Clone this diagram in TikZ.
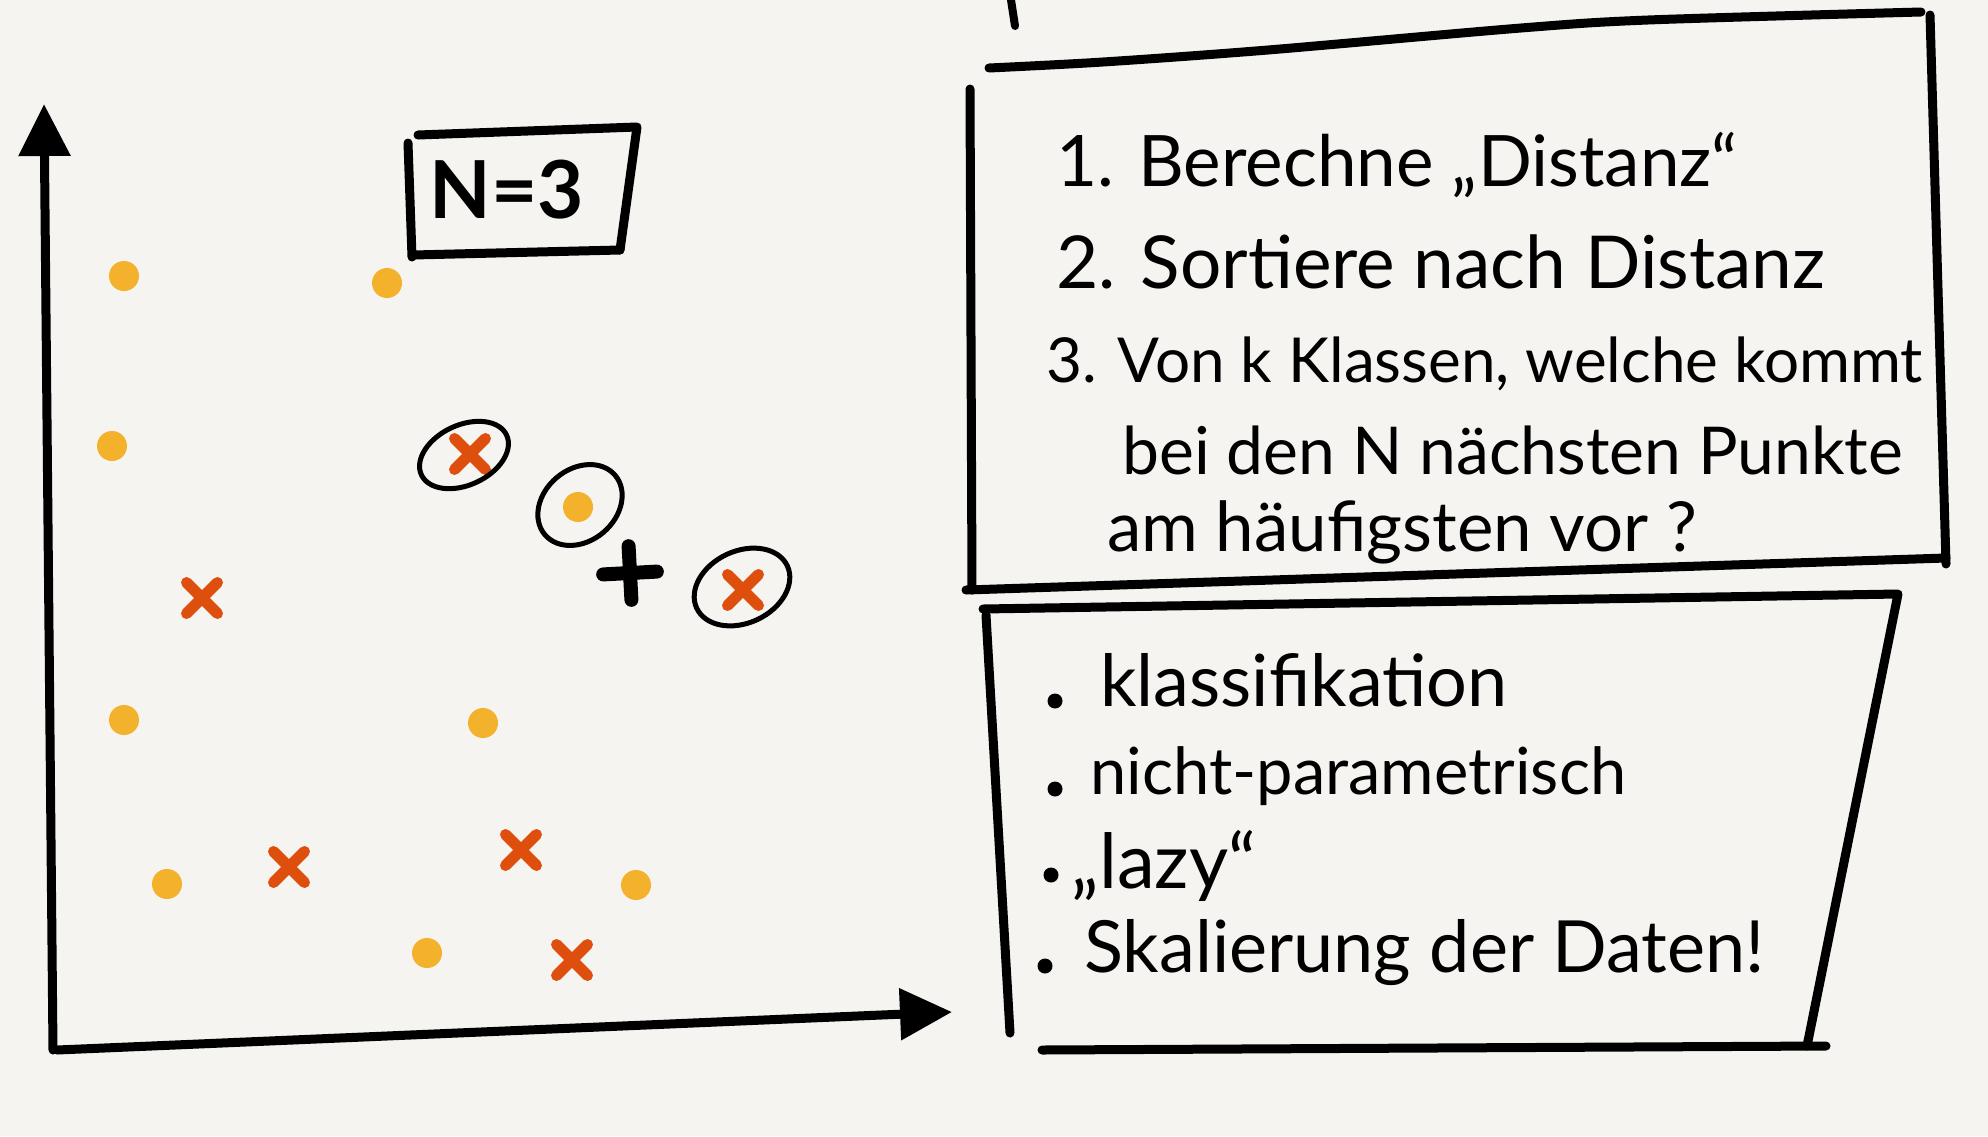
\documentclass[tikz,border=0pt]{standalone}
\usepackage{fontspec}
\setmainfont{Lato}
\usetikzlibrary{arrows.meta,positioning,shapes.geometric,shapes.misc}
\definecolor{paper}{HTML}{F5F4F0}
\definecolor{dotyellow}{HTML}{F4B12B}
\definecolor{crossred}{HTML}{DE4F0E}

\begin{document}
\begin{tikzpicture}[x=1pt, y=-1pt,
        pen/.style={line width=9pt, line cap=round, line join=round},
        axis/.style={pen, -{Triangle[length=52pt, width=50pt]}},
        ring/.style={draw, ellipse, line width=5pt, inner sep=0pt},
        ydot/.style={circle, fill=dotyellow, inner sep=0pt, minimum size=30pt},
        rcross/.style={cross out, draw=crossred, line width=11pt, line cap=round, inner sep=0pt, minimum size=20pt},
        bcross/.style={cross out, draw=black, line width=14pt, line cap=round, inner sep=0pt, minimum size=24pt, rotate=48},
        bullet/.style={circle, fill=black, inner sep=0pt, minimum size=15pt},
        hand/.style={anchor=west, inner sep=0pt, font=\fontsize{#1}{#1}\selectfont},
        hand/.default=64,
        nbox/.style={font=\fontsize{80}{90}\selectfont\bfseries, inner sep=0pt}
    ]
        \fill[paper] (0,0) rectangle (1988,1136);
        \useasboundingbox (0,0) rectangle (1988,1136);

        % axes
        \coordinate (origin) at (53,1050);
        \coordinate (ytip) at (44,104);
        \coordinate (xtip) at (952,1012);
        \draw[axis] (origin) -- (ytip);
        \draw[axis] (57,1050) -- (xtip);

        % N = 3
        \node[nbox] (nval) at (507,190) {N=3};
        \draw[pen] (418,135) -- (637,127) -- (620,250);
        \draw[pen] (408,143) -- (412,257);
        \draw[pen] (413,255) -- (620,250);

        % points
        \node[ydot] (y1) at (124,276) {};
        \node[ydot] (y2) at (387,283) {};
        \node[ydot] (y3) at (112,446) {};
        \node[ydot] (y4) at (578,507) {};
        \node[ydot] (y5) at (124,720) {};
        \node[ydot] (y6) at (483,723) {};
        \node[ydot] (y7) at (167,884) {};
        \node[ydot] (y8) at (427,953) {};
        \node[ydot] (y9) at (636,885) {};
        \node[rcross] (r1) at (202,598) {};
        \node[rcross] (r2) at (470,454) {};
        \node[rcross] (r3) at (743,590) {};
        \node[rcross] (r4) at (289,867) {};
        \node[rcross] (r5) at (521,850) {};
        \node[rcross] (r6) at (572,960) {};
        \node[bcross] (query) at (630,573) {};

        \node[ring, minimum width=94pt, minimum height=60pt, rotate=25] (n1) at (464,455) {};
        \node[ring, minimum width=92pt, minimum height=72pt, rotate=40] (n2) at (580,505) {};
        \node[ring, minimum width=100pt, minimum height=72pt, rotate=25] (n3) at (742,587) {};

        % steps
        \draw[pen] plot[smooth] coordinates {(989,68) (1103,62) (1268,50) (1521,28) (1648,20) (1921,12)};
        \draw[pen] (1930,15) -- (1946,564);
        \draw[pen] (970,89) -- (972,590);
        \draw[pen] (966,590) -- (1946,558);
        \node[hand=71] (l1) at (1056,165) {1. Berechne „Distanz“};
        \node[hand=73] (l2) at (1056,262) {2. Sortiere nach Distanz};
        \node[hand=62] (l3) at (1046,364) {3. Von k Klassen, welche kommt};
        \node[hand=66] (l4) at (1122,450) {bei den N nächsten Punkte};
        \node[hand=69] (l5) at (1107,532) {am häufigsten vor ?};

        % properties
        \draw[pen] (983,609) -- (1898,594) -- (1807,1046);
        \draw[pen] (986,615) -- (1010,1033);
        \draw[pen] (1042,1050) -- (1826,1046);
        \node[bullet] (b1) at (1055,701) {};
        \node[bullet] (b2) at (1055,789) {};
        \node[bullet] (b3) at (1051,875) {};
        \node[bullet] (b4) at (1045,966) {};
        \node[hand=72] (p1) at (1100,680) {klassifikation};
        \node[hand=65] (p2) at (1090,776) {nicht-parametrisch};
        \node[hand=76] (p3) at (1071,866) {„lazy“};
        \node[hand=72] (p4) at (1084,953) {Skalierung der Daten!};

        \draw[line width=8pt, line cap=round] (1011,0) -- (1015,26);
    \end{tikzpicture}
\end{document}
